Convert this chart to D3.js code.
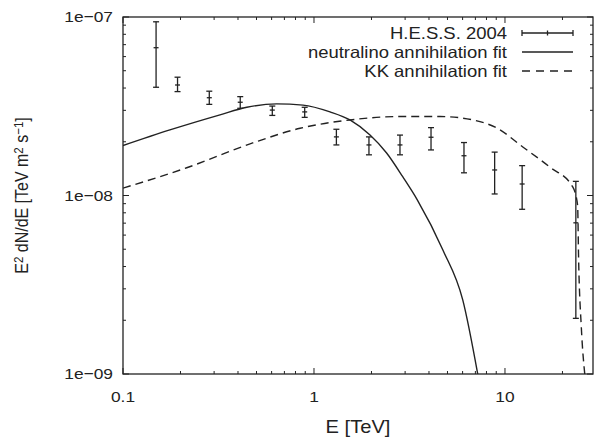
<!DOCTYPE html>
<html>
<head>
<meta charset="utf-8">
<script src="https://cdn.jsdelivr.net/npm/d3@7"></script>
<style>
  body { margin: 0; background: #fff; }
  svg text { font-family: "Liberation Sans", Arial, sans-serif; fill: #222; }
</style>
</head>
<body>
<div id="chart"></div>
<script>
// H.E.S.S. 2004 points: energy [TeV], E^2 dN/dE and error bar ends
const hessE    = [0.149, 0.193, 0.283, 0.411, 0.605, 0.894, 1.31, 1.94, 2.82, 4.10, 6.10, 8.83, 12.3, 23.5];
const hessFlux = [6.73e-8, 4.16e-8, 3.53e-8, 3.33e-8, 3.01e-8, 2.94e-8, 2.13e-8, 1.92e-8, 1.92e-8, 2.12e-8, 1.67e-8, 1.39e-8, 1.16e-8, 7.03e-9];
const hessHi   = [9.4e-8, 4.6e-8, 3.84e-8, 3.58e-8, 3.17e-8, 3.12e-8, 2.35e-8, 2.13e-8, 2.18e-8, 2.40e-8, 1.98e-8, 1.75e-8, 1.47e-8, 1.2e-8];
const hessLo   = [4.04e-8, 3.82e-8, 3.24e-8, 3.08e-8, 2.81e-8, 2.74e-8, 1.92e-8, 1.69e-8, 1.69e-8, 1.80e-8, 1.34e-8, 1.02e-8, 8.37e-9, 2.05e-9];

// neutralino annihilation fit (solid)
const neutE    = [0.1, 0.176, 0.322, 0.445, 0.638, 0.876, 1.213, 1.543, 1.965, 2.40, 2.92, 3.48, 4.73, 6.01, 7.23];
const neutFlux = [1.905e-8, 2.33e-8, 2.83e-8, 3.12e-8, 3.26e-8, 3.21e-8, 2.94e-8, 2.65e-8, 2.18e-8, 1.73e-8, 1.27e-8, 9.43e-9, 4.95e-9, 2.60e-9, 9.75e-10];

// KK annihilation fit (dashed)
const kkE    = [0.1, 0.2156, 0.478, 0.845, 1.543, 2.82, 4.57, 6.80, 9.05, 12.4, 17.2, 22.6, 24.0, 24.3, 25.1, 26.2];
const kkFlux = [1.10e-8, 1.43e-8, 1.97e-8, 2.38e-8, 2.65e-8, 2.77e-8, 2.77e-8, 2.65e-8, 2.39e-8, 1.87e-8, 1.44e-8, 1.12e-8, 8.85e-9, 4.36e-9, 1.83e-9, 9.86e-10];

const xTicks = [0.1, 1, 10];
const xTickLabels = ['0.1', '1', '10'];
const yTicks = [1e-9, 1e-8, 1e-7];
const yTickLabels = ['1e\u221209', '1e\u221208', '1e\u221207'];

const legendLabels = ['H.E.S.S. 2004', 'neutralino annihilation fit', 'KK annihilation fit'];

const W = 594, H = 438;
const plot = { left: 123, right: 593, top: 17, bottom: 374 };
const ink = '#222';
const stretch = 1.12; // the original picture is a bit wider than tall

const svg = d3.select('#chart').append('svg')
    .attr('width', W).attr('height', H);

const x = d3.scaleLog().domain([0.1, 28.9]).range([plot.left, plot.right]);
const y = d3.scaleLog().domain([1e-9, 1e-7]).range([plot.bottom, plot.top]);

// text placed at (px,py), widened horizontally like the reference
function label(px, py, str, size, anchor, sx) {
    return svg.append('text')
        .attr('transform', `translate(${px},${py}) scale(${sx || stretch},1)`)
        .attr('dy', '0.35em')
        .attr('text-anchor', anchor)
        .style('font-size', size + 'px')
        .text(str);
}

// minor ticks 2..9 in each decade
function minorTicks(lo, hi) {
    const out = [];
    for (let d = Math.floor(Math.log10(lo)); d <= Math.ceil(Math.log10(hi)); d++) {
        for (let m = 2; m <= 9; m++) {
            const v = m * Math.pow(10, d);
            if (v > lo * 1.0001 && v < hi * 0.9999) out.push(v);
        }
    }
    return out;
}

const tickG = svg.append('g').attr('stroke', ink).attr('stroke-width', 1);
const xMinor = minorTicks(0.1, 28.9);
const yMinor = minorTicks(1e-9, 1e-7);

// x ticks bottom + top (mirrored)
xTicks.forEach(v => {
    tickG.append('line').attr('x1', x(v)).attr('x2', x(v)).attr('y1', plot.bottom).attr('y2', plot.bottom - 6);
    tickG.append('line').attr('x1', x(v)).attr('x2', x(v)).attr('y1', plot.top).attr('y2', plot.top + 6);
});
xMinor.forEach(v => {
    tickG.append('line').attr('x1', x(v)).attr('x2', x(v)).attr('y1', plot.bottom).attr('y2', plot.bottom - 3);
    tickG.append('line').attr('x1', x(v)).attr('x2', x(v)).attr('y1', plot.top).attr('y2', plot.top + 3);
});
// y ticks left + right
yTicks.forEach(v => {
    tickG.append('line').attr('y1', y(v)).attr('y2', y(v)).attr('x1', plot.left).attr('x2', plot.left + 6);
    tickG.append('line').attr('y1', y(v)).attr('y2', y(v)).attr('x1', plot.right).attr('x2', plot.right - 6);
});
yMinor.forEach(v => {
    tickG.append('line').attr('y1', y(v)).attr('y2', y(v)).attr('x1', plot.left).attr('x2', plot.left + 3);
    tickG.append('line').attr('y1', y(v)).attr('y2', y(v)).attr('x1', plot.right).attr('x2', plot.right - 3);
});

// frame
svg.append('rect')
    .attr('x', plot.left).attr('y', plot.top)
    .attr('width', plot.right - plot.left).attr('height', plot.bottom - plot.top)
    .attr('fill', 'none').attr('stroke', ink).attr('stroke-width', 1.3);

// tick labels
xTicks.forEach((v, i) => label(x(v), 397, xTickLabels[i], 15.5, 'middle'));
yTicks.forEach((v, i) => label(113, y(v), yTickLabels[i], 15.5, 'end'));

// axis titles
label((plot.left + plot.right) / 2, 427, 'E [TeV]', 17.5, 'middle', 1.15);

const yt = svg.append('text')
    .attr('transform', `translate(22,${(plot.top + plot.bottom) / 2}) rotate(-90) scale(1,${stretch})`)
    .attr('dy', '0.35em')
    .attr('text-anchor', 'middle').style('font-size', '16px');
yt.append('tspan').text('E');
yt.append('tspan').attr('baseline-shift', '40%').style('font-size', '11.5px').text('2');
yt.append('tspan').text(' dN/dE [TeV m');
yt.append('tspan').attr('baseline-shift', '40%').style('font-size', '11.5px').text('2');
yt.append('tspan').text(' s');
yt.append('tspan').attr('baseline-shift', '40%').style('font-size', '11.5px').text('\u22121');
yt.append('tspan').text(']');

// curves, clipped to the frame
svg.append('clipPath').attr('id', 'clip').append('rect')
    .attr('x', plot.left).attr('y', plot.top)
    .attr('width', plot.right - plot.left).attr('height', plot.bottom - plot.top);

const line = d3.line()
    .x(d => x(d[0])).y(d => y(d[1]))
    .curve(d3.curveMonotoneX);

const curves = svg.append('g').attr('clip-path', 'url(#clip)');
curves.append('path')
    .attr('d', line(neutE.map((e, i) => [e, neutFlux[i]])))
    .attr('fill', 'none').attr('stroke', ink).attr('stroke-width', 1.4);
curves.append('path')
    .attr('d', line(kkE.map((e, i) => [e, kkFlux[i]])))
    .attr('fill', 'none').attr('stroke', ink).attr('stroke-width', 1.4)
    .attr('stroke-dasharray', '8,5');

// error bars
const cap = 3;
const eb = svg.append('g').attr('stroke', ink).attr('stroke-width', 1.3);
hessE.forEach((e, i) => {
    const cx = x(e);
    eb.append('line').attr('x1', cx).attr('x2', cx).attr('y1', y(hessHi[i])).attr('y2', y(hessLo[i]));
    eb.append('line').attr('x1', cx - cap).attr('x2', cx + cap).attr('y1', y(hessHi[i])).attr('y2', y(hessHi[i]));
    eb.append('line').attr('x1', cx - cap).attr('x2', cx + cap).attr('y1', y(hessLo[i])).attr('y2', y(hessLo[i]));
    eb.append('line').attr('x1', cx - 2.5).attr('x2', cx + 2.5).attr('y1', y(hessFlux[i])).attr('y2', y(hessFlux[i]));
});

// legend
const legY = [33, 52, 71];
const legText = 507, legX0 = 522, legX1 = 573;
legendLabels.forEach((t, i) => label(legText, legY[i], t, 16.5, 'end'));
const lg = svg.append('g').attr('stroke', ink).attr('stroke-width', 1.3);
lg.append('line').attr('x1', legX0).attr('x2', legX1).attr('y1', legY[0]).attr('y2', legY[0]);
[legX0, legX1].forEach(px => lg.append('line').attr('x1', px).attr('x2', px).attr('y1', legY[0] - 3).attr('y2', legY[0] + 3));
lg.append('line').attr('x1', (legX0 + legX1) / 2).attr('x2', (legX0 + legX1) / 2).attr('y1', legY[0] - 2.5).attr('y2', legY[0] + 2.5);
lg.append('line').attr('x1', legX0).attr('x2', legX1).attr('y1', legY[1]).attr('y2', legY[1]);
lg.append('line').attr('x1', legX0).attr('x2', legX1).attr('y1', legY[2]).attr('y2', legY[2])
    .attr('stroke-dasharray', '8,6');
</script>
</body>
</html>
